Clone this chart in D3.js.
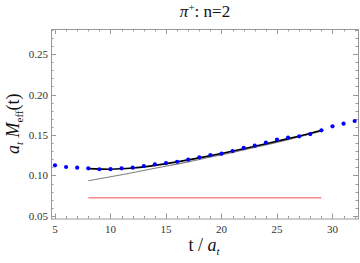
<!DOCTYPE html>
<html>
<head>
<meta charset="utf-8">
<script src="https://cdn.jsdelivr.net/npm/d3@7"></script>
<style>
  body { margin: 0; background: #fff; }
  svg { display: block; }
</style>
</head>
<body>
<div id="chart"></div>
<script>
// effective mass points, t = 5..32
const tData = [5, 6, 7, 8, 9, 10, 11, 12, 13, 14, 15, 16, 17, 18, 19, 20, 21, 22, 23, 24, 25, 26, 27, 28, 29, 30, 31, 32];
const mEff = [0.1126, 0.1105, 0.1096, 0.1089, 0.1077, 0.1078, 0.1089, 0.1096, 0.1117, 0.1138, 0.1154, 0.1170,
              0.1195, 0.1225, 0.1253, 0.1269, 0.1302, 0.1340, 0.1368, 0.1405, 0.1442, 0.1467, 0.1484, 0.1512,
              0.1558, 0.1607, 0.1640, 0.1673];

// fit curve (black)
const fitT = [8, 10, 12, 14, 16, 18, 20, 22, 24, 26, 28, 29];
const fitM = [0.1085, 0.1078, 0.1092, 0.1125, 0.1168, 0.1218, 0.1272, 0.1330, 0.1392, 0.1455, 0.1522, 0.1560];

// leading state only (gray)
const leadT = [8, 11, 14, 17, 20, 23, 26, 29];
const leadM = [0.0936, 0.1010, 0.1090, 0.1168, 0.1255, 0.1345, 0.1443, 0.1548];

// ground state mass (red)
const massT = [8, 29];
const massM = [0.0726, 0.0726];

const xTicks = [5, 10, 15, 20, 25, 30];
const yTicks = [0.05, 0.10, 0.15, 0.20, 0.25];

const width = 360, height = 263;
const mLeft = 51, mRight = 358, mTop = 29, mBottom = 218.5;

const svg = d3.select("#chart").append("svg")
    .attr("width", width)
    .attr("height", height);

const x = d3.scaleLinear().domain([4.64, 32.3]).range([mLeft, mRight]);
const y = d3.scaleLinear().domain([0.0469, 0.2809]).range([mBottom, mTop]);

const frameColor = "#999";
const serif = "'Liberation Serif', 'DejaVu Serif', serif";

// frame
svg.append("rect")
    .attr("x", mLeft + 0.5).attr("y", mTop + 0.5)
    .attr("width", mRight - mLeft).attr("height", mBottom - mTop)
    .attr("fill", "none").attr("stroke", frameColor).attr("stroke-width", 1);

// ticks on all four sides, pointing inward
const xMinor = d3.range(5, 33, 1);
const yMinor = d3.range(5, 29, 1).map(v => v / 100);

function xTickMarks(vals, len) {
    vals.forEach(v => {
        const px = Math.round(x(v)) + 0.5;
        svg.append("line").attr("x1", px).attr("x2", px).attr("y1", mBottom).attr("y2", mBottom - len)
            .attr("stroke", frameColor);
        svg.append("line").attr("x1", px).attr("x2", px).attr("y1", mTop).attr("y2", mTop + len)
            .attr("stroke", frameColor);
    });
}
function yTickMarks(vals, len) {
    vals.forEach(v => {
        const py = Math.round(y(v)) + 0.5;
        svg.append("line").attr("y1", py).attr("y2", py).attr("x1", mLeft).attr("x2", mLeft + len)
            .attr("stroke", frameColor);
        svg.append("line").attr("y1", py).attr("y2", py).attr("x1", mRight).attr("x2", mRight - len)
            .attr("stroke", frameColor);
    });
}
xTickMarks(xMinor, 2.5);
xTickMarks(xTicks, 5);
yTickMarks(yMinor, 2.5);
yTickMarks(yTicks, 5);

// tick labels
svg.append("g").selectAll("text").data(xTicks).enter().append("text")
    .attr("x", d => x(d))
    .attr("y", mBottom + 14)
    .attr("text-anchor", "middle")
    .attr("font-family", serif)
    .attr("font-size", "11px")
    .attr("fill", "#333")
    .text(d => d);

svg.append("g").selectAll("text").data(yTicks).enter().append("text")
    .attr("x", mLeft - 3)
    .attr("y", d => y(d) + 4)
    .attr("text-anchor", "end")
    .attr("font-family", serif)
    .attr("font-size", "11px")
    .attr("fill", "#333")
    .text(d => d3.format(".2f")(d));

// lines
svg.append("clipPath").attr("id", "clip").append("rect")
    .attr("x", mLeft).attr("y", mTop).attr("width", mRight - mLeft).attr("height", mBottom - mTop);
const plot = svg.append("g").attr("clip-path", "url(#clip)");

const line = d3.line().x(d => x(d[0])).y(d => y(d[1])).curve(d3.curveMonotoneX);

plot.append("path")
    .datum(massT.map((t, i) => [t, massM[i]]))
    .attr("d", line)
    .attr("fill", "none").attr("stroke", "#f58a8a").attr("stroke-width", 1.6);

plot.append("path")
    .datum(leadT.map((t, i) => [t, leadM[i]]))
    .attr("d", line)
    .attr("fill", "none").attr("stroke", "#7f7f7f").attr("stroke-width", 1.1);

plot.append("path")
    .datum(fitT.map((t, i) => [t, fitM[i]]))
    .attr("d", line)
    .attr("fill", "none").attr("stroke", "#000").attr("stroke-width", 1.6);

plot.selectAll("circle").data(tData).enter().append("circle")
    .attr("cx", d => x(d))
    .attr("cy", (d, i) => y(mEff[i]))
    .attr("r", 2.1)
    .attr("fill", "#0000ff");

// title
const title = svg.append("text")
    .attr("x", 205).attr("y", 17)
    .attr("text-anchor", "middle")
    .attr("font-family", serif)
    .attr("font-size", "17px")
    .attr("fill", "#111");
title.append("tspan").attr("font-style", "italic").text("π");
title.append("tspan").attr("font-size", "11px").attr("dy", -6).text("+");
title.append("tspan").attr("dy", 6).text(": n=2");

// x label
const xl = svg.append("text")
    .attr("x", 204).attr("y", 251)
    .attr("text-anchor", "middle")
    .attr("font-family", serif)
    .attr("font-size", "18px")
    .attr("fill", "#111");
xl.append("tspan").text("t / ");
xl.append("tspan").attr("font-style", "italic").text("a");
xl.append("tspan").attr("font-style", "italic").attr("font-size", "11px").attr("dy", 4).text("t");

// y label
const yl = svg.append("text")
    .attr("transform", "translate(19," + ((mTop + mBottom) / 2) + ") rotate(-90)")
    .attr("text-anchor", "middle")
    .attr("font-family", serif)
    .attr("font-size", "18px")
    .attr("fill", "#111");
yl.append("tspan").attr("font-style", "italic").text("a");
yl.append("tspan").attr("font-style", "italic").attr("font-size", "11px").attr("dy", 4).text("t");
yl.append("tspan").attr("font-style", "italic").attr("dy", -4).text(" M");
yl.append("tspan").attr("font-size", "11px").attr("dy", 4).text("eff");
yl.append("tspan").attr("dy", -4).text("(t)");
</script>
</body>
</html>
